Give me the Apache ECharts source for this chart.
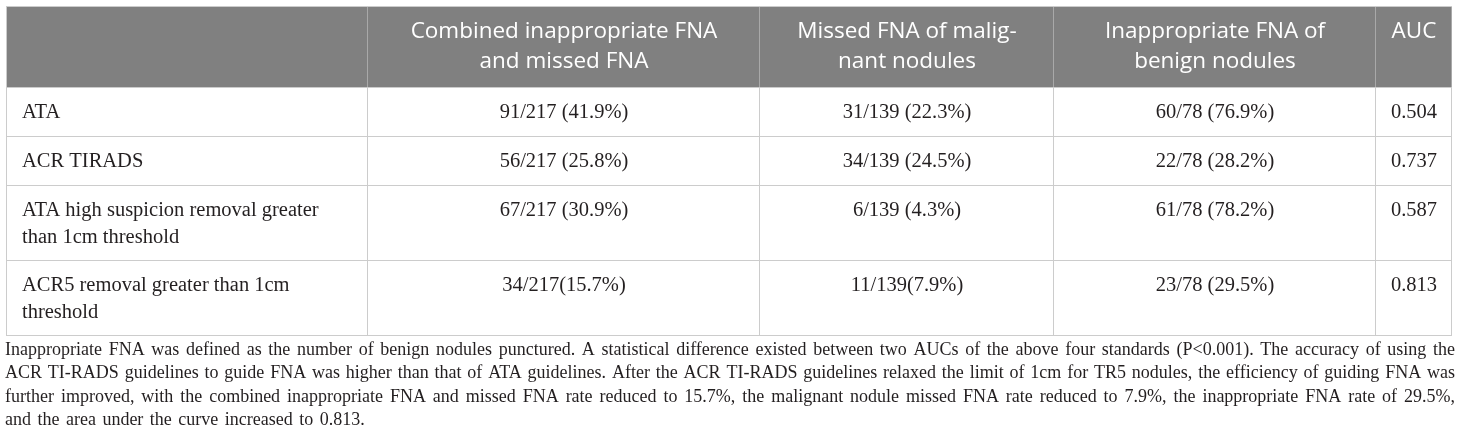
<!DOCTYPE html>
<html style="height: 100%">
    <head>
        <meta charset="utf-8">
    </head>
    <body style="height: 100%; margin: 0; background: #ffffff">
        <div id="container" style="height: 444px; width: 1460px;"></div>
        <script type="text/javascript" src="https://cdn.jsdelivr.net/npm/echarts@6/dist/echarts.min.js"></script>
        <script type="text/javascript">
// table content
const columnHeaders = ['', 'Combined inappropriate FNA\nand missed FNA', 'Missed FNA of malig-\nnant nodules', 'Inappropriate FNA of\nbenign nodules', 'AUC'];
const standards = ['ATA', 'ACR TIRADS', 'ATA high suspicion removal greater\nthan 1cm threshold', 'ACR5 removal greater than 1cm\nthreshold'];
const combinedValues = ['91/217 (41.9%)', '56/217 (25.8%)', '67/217 (30.9%)', '34/217(15.7%)'];
const missedValues = ['31/139 (22.3%)', '34/139 (24.5%)', '6/139 (4.3%)', '11/139(7.9%)'];
const inappropriateValues = ['60/78 (76.9%)', '22/78 (28.2%)', '61/78 (78.2%)', '23/78 (29.5%)'];
const aucValues = ['0.504', '0.737', '0.587', '0.813'];
const footnoteLines = [
    'Inappropriate FNA was defined as the number of benign nodules punctured. A statistical difference existed between two AUCs of the above four standards (P<0.001). The accuracy of using the',
    'ACR TI-RADS guidelines to guide FNA was higher than that of ATA guidelines. After the ACR TI-RADS guidelines relaxed the limit of 1cm for TR5 nodules, the efficiency of guiding FNA was',
    'further improved, with the combined inappropriate FNA and missed FNA rate reduced to 15.7%, the malignant nodule missed FNA rate reduced to 7.9%, the inappropriate FNA rate of 29.5%,',
    'and the area under the curve increased to 0.813.'
];

// layout (axis units = px inside the grid)
const colEdges = [0, 362, 754, 1048, 1370, 1446];
const rowEdges = [0, 81, 130, 179, 254, 329];

var rows = [columnHeaders];
for (var i = 0; i < standards.length; i++) {
    rows.push([standards[i], combinedValues[i], missedValues[i], inappropriateValues[i], aucValues[i]]);
}

var cells = [];
rows.forEach(function (row, r) {
    row.forEach(function (txt, c) {
        cells.push([c, r, txt]);
    });
});

var dom = document.getElementById('container');
var myChart = echarts.init(dom, null, { renderer: 'canvas' });

function renderCell(params, api) {
    var c = api.value(0);
    var r = api.value(1);
    var txt = cells[params.dataIndex][2];
    var p0 = api.coord([colEdges[c], rowEdges[r]]);
    var p1 = api.coord([colEdges[c + 1], rowEdges[r + 1]]);
    var isHead = r === 0;
    var lh = isHead ? 30 : 27;
    var children = [
        {
            type: 'rect',
            shape: { x: p0[0], y: p0[1], width: p1[0] - p0[0], height: p1[1] - p0[1] },
            style: { fill: isHead ? '#808080' : '#ffffff' }
        },
        {
            type: 'line',
            shape: { x1: p1[0] - 0.5, y1: p0[1], x2: p1[0] - 0.5, y2: p1[1] },
            style: { stroke: isHead ? '#a9a9a9' : '#cccccc', lineWidth: 1 },
            z2: 2
        },
        {
            type: 'line',
            shape: { x1: p0[0], y1: p1[1] - 0.5, x2: p1[0], y2: p1[1] - 0.5 },
            style: { stroke: '#cccccc', lineWidth: 1 },
            z2: 2
        },
        {
            type: 'text',
            style: {
                text: txt,
                x: c === 0 ? p0[0] + 16 : (p0[0] + p1[0]) / 2,
                y: p0[1] + 25 - lh / 2,
                align: c === 0 ? 'left' : 'center',
                verticalAlign: 'top',
                fill: isHead ? '#ffffff' : '#231f20',
                fontFamily: isHead ? 'Open Sans' : 'Liberation Serif',
                fontSize: isHead ? 22.5 : 20.5,
                lineHeight: lh
            },
            z2: 3
        }
    ];
    if (c === 0) {
        children.push({
            type: 'line',
            shape: { x1: p0[0] + 0.5, y1: p0[1], x2: p0[0] + 0.5, y2: p1[1] },
            style: { stroke: '#cccccc', lineWidth: 1 },
            z2: 2
        });
    }
    if (r === 0) {
        children.push({
            type: 'line',
            shape: { x1: p0[0], y1: p0[1] - 0.5, x2: p1[0], y2: p0[1] - 0.5 },
            style: { stroke: '#cccccc', lineWidth: 1 },
            z2: 2
        });
    }
    return { type: 'group', children: children };
}

// footnote: justified lines, words spread over the full width
var noteFont = '18px "Liberation Serif"';
var measureCtx = document.createElement('canvas').getContext('2d');
measureCtx.font = noteFont;
var noteLeft = 5, noteWidth = 1450;
var noteElements = [];
var gaps = [];
footnoteLines.forEach(function (line, k) {
    var words = line.split(' ');
    var widths = words.map(function (w) { return measureCtx.measureText(w).width; });
    var total = widths.reduce(function (a, b) { return a + b; }, 0);
    var last = k === footnoteLines.length - 1;
    var gap;
    if (last) {
        // last line is not stretched, keep the average spacing of the others
        gap = gaps.reduce(function (a, b) { return a + b; }, 0) / gaps.length;
    } else {
        gap = (noteWidth - total) / (words.length - 1);
        gaps.push(gap);
    }
    var x = noteLeft;
    words.forEach(function (w, j) {
        noteElements.push({
            type: 'text',
            x: x,
            y: 350 + k * 23.5,
            style: {
                text: w,
                fill: '#231f20',
                font: noteFont,
                verticalAlign: 'middle'
            },
            silent: true
        });
        x += widths[j] + gap;
    });
});

var option = {
    animation: false,
    grid: { left: 6, top: 7, width: 1446, height: 329 },
    xAxis: { type: 'value', min: 0, max: colEdges[colEdges.length - 1], show: false },
    yAxis: { type: 'value', min: 0, max: rowEdges[rowEdges.length - 1], inverse: true, show: false },
    series: [
        {
            type: 'custom',
            renderItem: renderCell,
            encode: { x: 0, y: 1 },
            data: cells.map(function (d) { return [d[0], d[1]]; }),
            silent: true
        }
    ],
    graphic: { elements: noteElements }
};

myChart.setOption(option);
        </script>
    </body>
</html>
